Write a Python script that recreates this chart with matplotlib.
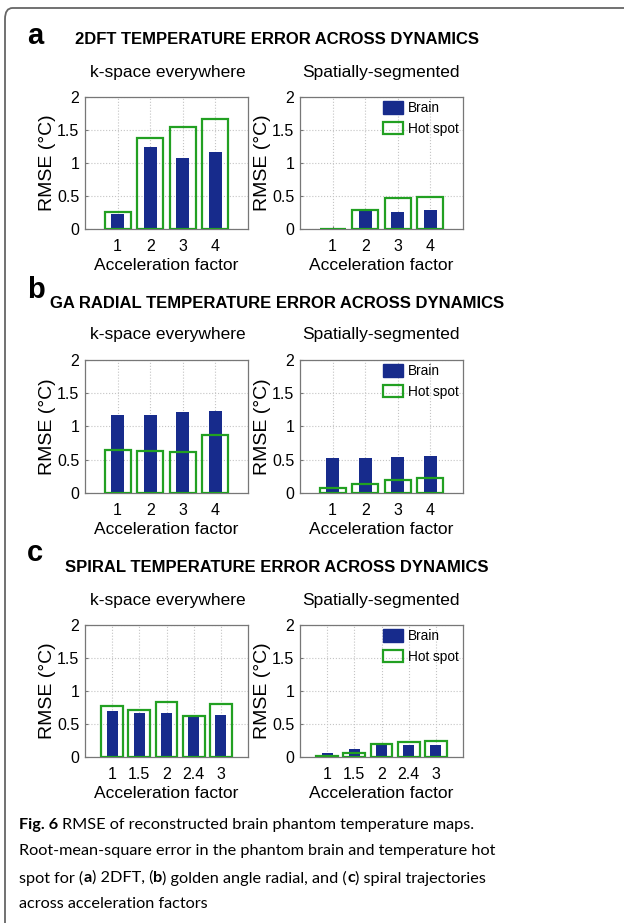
import matplotlib.pyplot as plt
from matplotlib.patches import FancyBboxPatch, Patch
import numpy as np

plt.rcParams['font.family'] = ['Liberation Sans', 'DejaVu Sans']

# acceleration factors
acc4 = ['1', '2', '3', '4']
acc5 = ['1', '1.5', '2', '2.4', '3']

# 2DFT
a_kspace_brain = [0.23, 1.24, 1.08, 1.16]
a_kspace_hot = [0.26, 1.38, 1.55, 1.66]
a_seg_brain = [0.015, 0.27, 0.26, 0.29]
a_seg_hot = [0.005, 0.29, 0.47, 0.48]

# GA radial
b_kspace_brain = [1.18, 1.17, 1.22, 1.23]
b_kspace_hot = [0.64, 0.63, 0.61, 0.87]
b_seg_brain = [0.53, 0.52, 0.54, 0.56]
b_seg_hot = [0.08, 0.14, 0.19, 0.22]

# spiral
c_kspace_brain = [0.69, 0.66, 0.66, 0.61, 0.63]
c_kspace_hot = [0.77, 0.71, 0.83, 0.62, 0.81]
c_seg_brain = [0.06, 0.12, 0.18, 0.18, 0.18]
c_seg_hot = [0.02, 0.065, 0.20, 0.22, 0.25]

W, H = 624, 923
navy = '#172b8c'
green = '#22a022'

fig = plt.figure(figsize=(W/100, H/100), dpi=100)

# frame around the figure
fig.patches.append(FancyBboxPatch((5/W, -0.05), 1.2, 1 - 8/H + 0.05,
                                  boxstyle='round,pad=0,rounding_size=0.012',
                                  transform=fig.transFigure, fill=False,
                                  edgecolor='#666666', lw=1.3))


def px_axes(x0, x1, y0, y1):
    return fig.add_axes([x0/W, 1 - y1/H, (x1 - x0)/W, (y1 - y0)/H])


def draw(ax, labels, brain, hot, legend=False):
    x = np.arange(1, len(labels) + 1)
    ax.bar(x, brain, width=0.4, color=navy, zorder=2, label='Brain')
    ax.bar(x, hot, width=0.8, facecolor='none', edgecolor=green, lw=1.6,
           zorder=3, label='Hot spot')
    ax.set_xlim(0, len(labels) + 1)
    ax.set_ylim(0, 2)
    ax.set_xticks(x)
    ax.set_xticklabels(labels)
    ax.set_yticks([0, 0.5, 1, 1.5, 2])
    ax.set_yticklabels(['0', '0.5', '1', '1.5', '2'])
    ax.grid(True, ls=':', color='#c4c4c4', lw=0.8, zorder=0)
    ax.set_axisbelow(True)
    for s in ax.spines.values():
        s.set_color('#777777')
        s.set_linewidth(0.9)
    ax.tick_params(length=2, direction='in', labelsize=11.5, color='#777777')
    ax.tick_params(axis='x', pad=7)
    ax.tick_params(axis='y', pad=4)
    ax.set_xlabel('Acceleration factor', fontsize=12.5, labelpad=3)
    ax.set_ylabel('RMSE (°C)', fontsize=14, labelpad=1)
    if legend:
        handles = [Patch(facecolor=navy, edgecolor=navy),
                   Patch(facecolor='none', edgecolor=green, lw=1.6)]
        ax.legend(handles, ['Brain', 'Hot spot'], loc='upper right',
                  bbox_to_anchor=(1.0, 1.0),
                  frameon=False, fontsize=9.8, handlelength=1.5, handleheight=1.0,
                  handletextpad=0.35, borderaxespad=0.05, borderpad=0.25,
                  labelspacing=0.5)


rows = [
    (97, 229, acc4, a_kspace_brain, a_kspace_hot, a_seg_brain, a_seg_hot),
    (360, 493, acc4, b_kspace_brain, b_kspace_hot, b_seg_brain, b_seg_hot),
    (625, 757, acc5, c_kspace_brain, c_kspace_hot, c_seg_brain, c_seg_hot),
]
for y0, y1, labs, kb, kh, sb, sh in rows:
    draw(px_axes(85, 248, y0, y1), labs, kb, kh)
    draw(px_axes(300, 463, y0, y1), labs, sb, sh, legend=True)

titles = [
    ('a', 36, '2DFT TEMPERATURE ERROR ACROSS DYNAMICS', 39, 72),
    ('b', 290, 'GA RADIAL TEMPERATURE ERROR ACROSS DYNAMICS', 303, 335),
    ('c', 553, 'SPIRAL TEMPERATURE ERROR ACROSS DYNAMICS', 567, 600),
]
for letter, ly, title, ty, sy in titles:
    fig.text(27/W, 1 - ly/H, letter, fontsize=21, fontweight='bold',
             ha='left', va='center')
    fig.text(277/W, 1 - ty/H, title, fontsize=12, fontweight='bold',
             ha='center', va='center')
    fig.text(168/W, 1 - sy/H, 'k-space everywhere', fontsize=12.5,
             ha='center', va='center')
    fig.text(381/W, 1 - sy/H, 'Spatially-segmented', fontsize=12.5,
             ha='center', va='center')

# caption, written as runs of normal and bold text
cap_font = 'Lato'
cap_size = 11.7
renderer = fig.canvas.get_renderer()


def width_of(s, bold):
    t = fig.text(0, 0, s, fontsize=cap_size, family=cap_font,
                 fontweight='bold' if bold else 'normal')
    w = t.get_window_extent(renderer=renderer).width
    t.remove()
    return w


space = width_of('x x', False) - width_of('xx', False)


def caption_line(y, parts):
    x = 19
    for s, bold, gap in parts:
        t = fig.text(x/W, 1 - y/H, s, fontsize=cap_size, family=cap_font,
                     fontweight='bold' if bold else 'normal', va='center', ha='left')
        x += t.get_window_extent(renderer=renderer).width + (space if gap else 0)


caption_line(825, [('Fig. 6', True, True),
                   ('RMSE of reconstructed brain phantom temperature maps.', False, False)])
caption_line(851, [('Root-mean-square error in the phantom brain and temperature hot', False, False)])
caption_line(878, [('spot for (', False, False), ('a', True, False),
                   (') 2DFT, (', False, False), ('b', True, False),
                   (') golden angle radial, and (', False, False), ('c', True, False),
                   (') spiral trajectories', False, False)])
caption_line(904, [('across acceleration factors', False, False)])

fig.savefig('out.png', dpi=100)
